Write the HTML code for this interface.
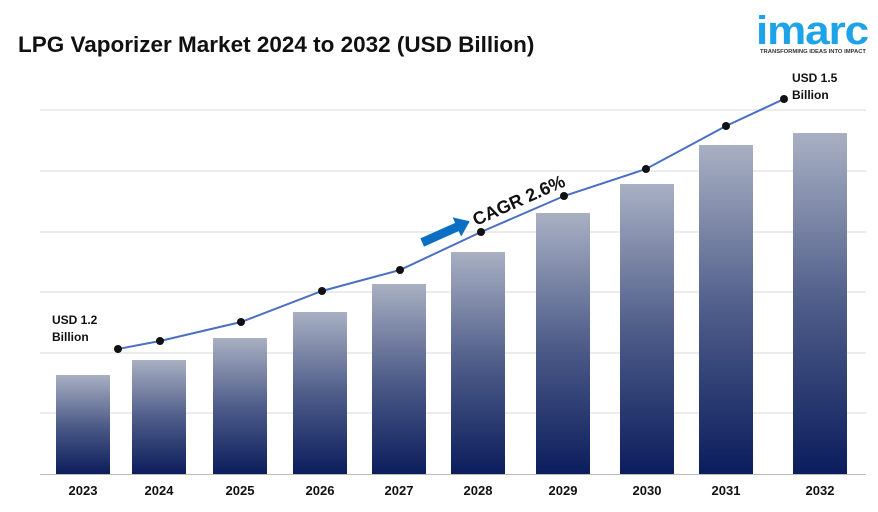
<!DOCTYPE html>
<html><head><style>
body{margin:0;width:878px;height:507px;background:#fff;overflow:hidden;font-family:"Liberation Sans",sans-serif}
</style></head><body>
<svg width="878" height="507" xmlns="http://www.w3.org/2000/svg" font-family="Liberation Sans, sans-serif">
<defs>
<linearGradient id="g" x1="0" y1="0" x2="0" y2="1">
<stop offset="0" stop-color="#a9b0c3"/><stop offset="0.5" stop-color="#4f5d89"/><stop offset="1" stop-color="#0b1d5c"/>
</linearGradient>
</defs>
<text x="18" y="52" font-size="22.5" font-weight="bold" fill="#111">LPG Vaporizer Market 2024 to 2032 (USD Billion)</text>
<g stroke="#d9d9d9" stroke-width="1">
<line x1="40" y1="110" x2="866" y2="110"/><line x1="40" y1="171" x2="866" y2="171"/>
<line x1="40" y1="232" x2="866" y2="232"/><line x1="40" y1="292" x2="866" y2="292"/>
<line x1="40" y1="353" x2="866" y2="353"/><line x1="40" y1="413" x2="866" y2="413"/>
</g>
<line x1="40" y1="474.5" x2="866" y2="474.5" stroke="#bbb"/>
<g fill="url(#g)">
<rect x="56" y="375" width="54" height="99"/>
<rect x="132" y="360" width="54" height="114"/>
<rect x="213" y="338" width="54" height="136"/>
<rect x="293" y="312" width="54" height="162"/>
<rect x="372" y="284" width="54" height="190"/>
<rect x="451" y="252" width="54" height="222"/>
<rect x="536" y="213" width="54" height="261"/>
<rect x="620" y="184" width="54" height="290"/>
<rect x="699" y="145" width="54" height="329"/>
<rect x="793" y="133" width="54" height="341"/>
</g>
<g font-size="13" font-weight="bold" fill="#111" text-anchor="middle">
<text x="83" y="495">2023</text><text x="159" y="495">2024</text><text x="240" y="495">2025</text>
<text x="320" y="495">2026</text><text x="399" y="495">2027</text><text x="478" y="495">2028</text>
<text x="563" y="495">2029</text><text x="647" y="495">2030</text><text x="726" y="495">2031</text>
<text x="820" y="495">2032</text>
</g>
<polyline fill="none" stroke="#4a6fc4" stroke-width="2" points="118,349 160,341 241,322 322,291 400,270 481,232 564,196 646,169 726,126 784,99"/>
<g fill="#111">
<circle cx="118" cy="349" r="4"/><circle cx="160" cy="341" r="4"/><circle cx="241" cy="322" r="4"/>
<circle cx="322" cy="291" r="4"/><circle cx="400" cy="270" r="4"/><circle cx="481" cy="232" r="4"/>
<circle cx="564" cy="196" r="4"/><circle cx="646" cy="169" r="4"/><circle cx="726" cy="126" r="4"/>
<circle cx="784" cy="99" r="4"/>
</g>
<g font-size="12" font-weight="bold" fill="#111">
<text x="52" y="324">USD 1.2</text><text x="52" y="341">Billion</text>
<text x="792" y="82">USD 1.5</text><text x="792" y="99">Billion</text>
</g>
<g transform="translate(422,242) rotate(-24)">
<rect x="0" y="-4" width="40" height="9" fill="#0a6fc2"/>
<polygon points="38,-10 52,0.5 38,11" fill="#0a6fc2"/>
</g>
<text x="0" y="0" font-size="18" font-weight="bold" fill="#111" transform="translate(476,226) rotate(-24)">CAGR 2.6%</text>
<text x="756" y="44" font-size="40" font-weight="bold" fill="#1fa3e8" letter-spacing="-1" textLength="112" lengthAdjust="spacingAndGlyphs">imarc</text>
<text x="760" y="53" font-size="5.8" font-weight="bold" fill="#333" textLength="106" lengthAdjust="spacingAndGlyphs">TRANSFORMING IDEAS INTO IMPACT</text>
</svg>
</body></html>
